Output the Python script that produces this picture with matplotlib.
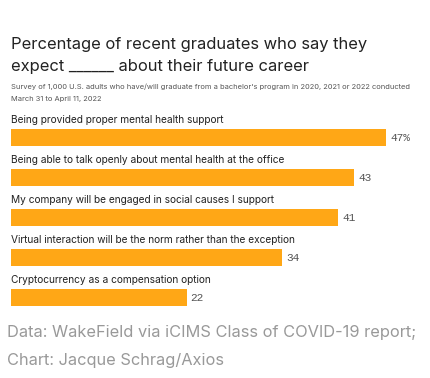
import matplotlib.pyplot as plt

categories = [
    "Being provided proper mental health support",
    "Being able to talk openly about mental health at the office",
    "My company will be engaged in social causes I support",
    "Virtual interaction will be the norm rather than the exception",
    "Cryptocurrency as a compensation option",
]
values = [47, 43, 41, 34, 22]
value_labels = ["47%", "43", "41", "34", "22"]

W, H = 430, 378
fig = plt.figure(figsize=(W / 100, H / 100), dpi=100)
fig.patch.set_facecolor("white")
plt.rcParams["font.family"] = ["Inter", "DejaVu Sans"]

# axes placed in pixel terms: bars start at x=11, 40px row pitch
ax = fig.add_axes([11 / W, 1 - 317.5 / H, 399 / W, 200 / H])
ax.set_xlim(0, 50)
ax.set_ylim(4.5, -0.5)
ax.axis("off")

ypos = list(range(len(values)))
ax.barh(ypos, values, height=0.43, color="#FFA716", edgecolor="none")

for y, v, lab, cat in zip(ypos, values, value_labels, categories):
    ax.text(0, y - 0.44, cat, ha="left", va="center", fontsize=7.3, color="#222222")
    ax.text(v + 0.5, y, lab, ha="left", va="center",
            fontsize=8, color="#555555", family="Liberation Mono")

fig.text(11 / W, 1 - 45 / H, "Percentage of recent graduates who say they",
         fontsize=11.9, color="#222222", va="center", ha="left")
fig.text(11 / W, 1 - 66 / H, "expect ______ about their future career",
         fontsize=11.9, color="#222222", va="center", ha="left")
fig.text(11 / W, 1 - 87 / H,
         "Survey of 1,000 U.S. adults who have/will graduate from a bachelor's program in 2020, 2021 or 2022 conducted",
         fontsize=5.4, color="#555555", va="center", ha="left")
fig.text(11 / W, 1 - 99 / H, "March 31 to April 11, 2022",
         fontsize=5.4, color="#555555", va="center", ha="left")

fig.text(7 / W, 1 - 333 / H, "Data: WakeField via iCIMS Class of COVID-19 report;",
         fontsize=11.8, color="#999999", va="center", ha="left")
fig.text(7 / W, 1 - 360 / H, "Chart: Jacque Schrag/Axios",
         fontsize=11.8, color="#999999", va="center", ha="left")

fig.savefig("out.png", dpi=100, facecolor="white")
